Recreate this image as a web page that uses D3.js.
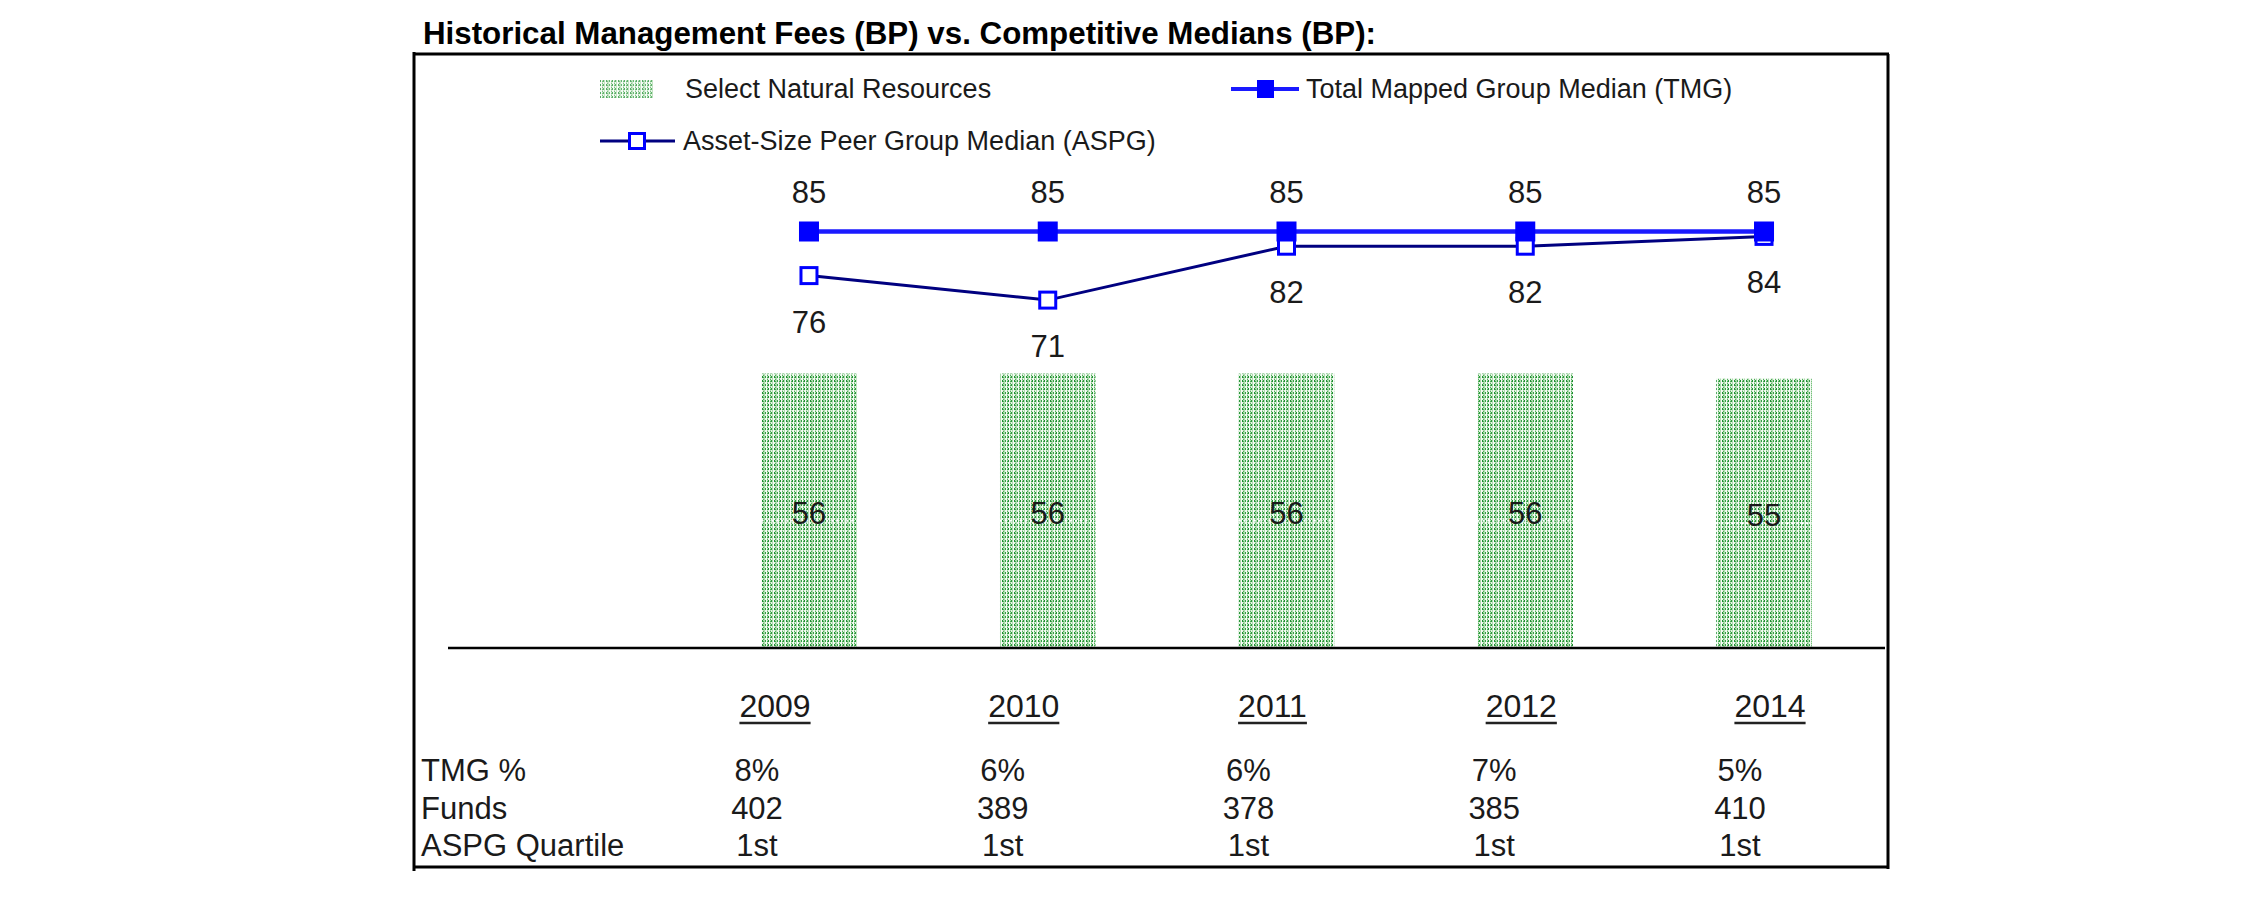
<!DOCTYPE html>
<html>
<head>
<meta charset="utf-8">
<script src="https://cdn.jsdelivr.net/npm/d3@7"></script>
<style>
  html, body { margin: 0; padding: 0; background: #fff; }
  svg { display: block; }
  text { font-family: "Liberation Sans", Arial, sans-serif; }
</style>
</head>
<body>
<script>
// ---------- data ----------
const categories   = ["2009", "2010", "2011", "2012", "2014"];
const snrValues    = [56, 56, 56, 56, 55];     // Select Natural Resources (bars)
const tmgValues    = [85, 85, 85, 85, 85];     // Total Mapped Group Median
const aspgValues   = [76, 71, 82, 82, 84];     // Asset-Size Peer Group Median
const tmgPct       = ["8%", "6%", "6%", "7%", "5%"];
const funds        = ["402", "389", "378", "385", "410"];
const aspgQuartile = ["1st", "1st", "1st", "1st", "1st"];
const rowLabels    = ["TMG %", "Funds", "ASPG Quartile"];
const legendLabels = ["Select Natural Resources", "Total Mapped Group Median (TMG)", "Asset-Size Peer Group Median (ASPG)"];
const titleText    = "Historical Management Fees (BP) vs. Competitive Medians (BP):";

// ---------- setup ----------
const W = 2251, H = 898;
const svg = d3.select("body").append("svg").attr("width", W).attr("height", H);
svg.append("rect").attr("width", W).attr("height", H).attr("fill", "#fff");

const defs = svg.append("defs");
const pat = defs.append("pattern").attr("id", "greenDots")
  .attr("patternUnits", "userSpaceOnUse").attr("width", 12).attr("height", 4);
pat.append("rect").attr("width", 12).attr("height", 4).attr("fill", "#addaad");
// dark dotted columns
[[0, "#1e8c32"], [3, "#2a9a3a"], [6, "#1e8c32"], [9, "#33a043"]].forEach(([x, c]) => {
  pat.append("rect").attr("x", x).attr("y", 0).attr("width", 1).attr("height", 2).attr("fill", c);
  pat.append("rect").attr("x", x).attr("y", 2).attr("width", 1).attr("height", 2).attr("fill", "#e8f5e8");
});
// white columns
[1, 5, 10].forEach(x => {
  pat.append("rect").attr("x", x).attr("y", 0).attr("width", 1).attr("height", 4).attr("fill", "#f4fbf4");
});
// mid-green dotted columns
[2, 7, 11].forEach(x => {
  pat.append("rect").attr("x", x).attr("y", 1).attr("width", 1).attr("height", 1).attr("fill", "#4fae5a");
  pat.append("rect").attr("x", x).attr("y", 3).attr("width", 1).attr("height", 1).attr("fill", "#4fae5a");
});

// ---------- scales ----------
const x = d3.scaleBand().domain(categories).range([689.6, 1883.4]).paddingInner(0.6).paddingOuter(0.3);
const y = d3.scaleLinear().domain([0, 100]).range([648, 158]);
const xc = d => x(d) + x.bandwidth() / 2;
const yearX = d3.scalePoint().domain(categories).range([775, 1770]);
const valX  = d3.scalePoint().domain(categories).range([757, 1740]);

// ---------- title ----------
svg.append("text").attr("x", 423).attr("y", 44)
  .attr("font-size", 31.3).attr("font-weight", "bold").attr("fill", "#000")
  .text(titleText);

// ---------- frame ----------
const frame = svg.append("g").attr("stroke", "#000").attr("stroke-width", 3);
frame.append("line").attr("x1", 413).attr("x2", 1889).attr("y1", 54).attr("y2", 54);
frame.append("line").attr("x1", 414).attr("x2", 414).attr("y1", 52).attr("y2", 871);
frame.append("line").attr("x1", 1888).attr("x2", 1888).attr("y1", 54).attr("y2", 869);
frame.append("line").attr("x1", 414).attr("x2", 1888).attr("y1", 867).attr("y2", 867);

// ---------- legend ----------
const lg = svg.append("g").attr("font-size", 27).attr("fill", "#1a1a1a");
lg.append("rect").attr("x", 600).attr("y", 80).attr("width", 53).attr("height", 18)
  .attr("fill", "url(#greenDots)").attr("opacity", 0.75);
lg.append("text").attr("x", 685).attr("y", 98).text(legendLabels[0]);

lg.append("line").attr("x1", 1231).attr("x2", 1299).attr("y1", 89).attr("y2", 89)
  .attr("stroke", "#1a1aff").attr("stroke-width", 4);
lg.append("rect").attr("x", 1257).attr("y", 80).attr("width", 17).attr("height", 18).attr("fill", "#0000ff");
lg.append("text").attr("x", 1306).attr("y", 98).text(legendLabels[1]);

lg.append("line").attr("x1", 600).attr("x2", 675).attr("y1", 141).attr("y2", 141)
  .attr("stroke", "#000080").attr("stroke-width", 3);
lg.append("rect").attr("x", 629.5).attr("y", 133.5).attr("width", 15).attr("height", 15)
  .attr("fill", "#fff").attr("stroke", "#0000ff").attr("stroke-width", 3);
lg.append("text").attr("x", 683).attr("y", 150).text(legendLabels[2]);

// ---------- bars ----------
const bars = categories.map((c, i) => ({ c, v: snrValues[i] }));
svg.append("g").selectAll("rect").data(bars).join("rect")
  .attr("x", d => x(d.c)).attr("width", x.bandwidth())
  .attr("y", d => y(d.v)).attr("height", d => y(0) - y(d.v))
  .attr("fill", "url(#greenDots)");

// dotted band behind bar labels
svg.append("g").selectAll("line").data(bars).join("line")
  .attr("x1", d => x(d.c)).attr("x2", d => x(d.c) + x.bandwidth())
  .attr("y1", d => (y(d.v) + y(0)) / 2 + 10).attr("y2", d => (y(d.v) + y(0)) / 2 + 10)
  .attr("stroke", "#ffffff").attr("stroke-width", 2).attr("stroke-dasharray", "2,3");

svg.append("g").selectAll("text").data(bars).join("text")
  .attr("x", d => xc(d.c)).attr("y", d => (y(d.v) + y(0)) / 2 + 13)
  .attr("text-anchor", "middle").attr("font-size", 31).attr("fill", "#1a1a1a")
  .text(d => d.v);

// ---------- axis baseline ----------
svg.append("line").attr("x1", 448).attr("x2", 1885).attr("y1", y(0)).attr("y2", y(0))
  .attr("stroke", "#000").attr("stroke-width", 2.5);

// ---------- lines ----------
const tmg  = categories.map((c, i) => ({ c, v: tmgValues[i] }));
const aspg = categories.map((c, i) => ({ c, v: aspgValues[i] }));
const lineGen = d3.line().x(d => xc(d.c)).y(d => y(d.v));

svg.append("path").datum(aspg).attr("d", lineGen)
  .attr("fill", "none").attr("stroke", "#000080").attr("stroke-width", 3);
svg.append("g").selectAll("rect").data(aspg).join("rect")
  .attr("x", d => xc(d.c) - 8).attr("y", d => y(d.v) - 8)
  .attr("width", 16).attr("height", 16)
  .attr("fill", "#fff").attr("stroke", "#0000ff").attr("stroke-width", 3);

svg.append("path").datum(tmg).attr("d", lineGen)
  .attr("fill", "none").attr("stroke", "#1a1aff").attr("stroke-width", 4.5);
svg.append("g").selectAll("rect").data(tmg).join("rect")
  .attr("x", d => xc(d.c) - 10).attr("y", d => y(d.v) - 10)
  .attr("width", 20).attr("height", 20).attr("fill", "#0000ff");

// labels
svg.append("g").selectAll("text").data(tmg).join("text")
  .attr("x", d => xc(d.c)).attr("y", d => y(d.v) - 29)
  .attr("text-anchor", "middle").attr("font-size", 31).attr("fill", "#1a1a1a")
  .text(d => d.v);
svg.append("g").selectAll("text").data(aspg).join("text")
  .attr("x", d => xc(d.c)).attr("y", d => y(d.v) + 57)
  .attr("text-anchor", "middle").attr("font-size", 31).attr("fill", "#1a1a1a")
  .text(d => d.v);

// ---------- table ----------
const yearG = svg.append("g");
categories.forEach(c => {
  const t = yearG.append("text").attr("x", yearX(c)).attr("y", 717)
    .attr("text-anchor", "middle").attr("font-size", 32).attr("fill", "#1a1a1a").text(c);
  const w = t.node().getComputedTextLength();
  yearG.append("line").attr("x1", yearX(c) - w / 2).attr("x2", yearX(c) + w / 2)
    .attr("y1", 723).attr("y2", 723).attr("stroke", "#222").attr("stroke-width", 2.5);
});

const rowsY = [781, 819, 856];
const rows = [tmgPct, funds, aspgQuartile];
const tg = svg.append("g").attr("font-size", 31).attr("fill", "#1a1a1a");
rowLabels.forEach((lab, r) => {
  tg.append("text").attr("x", 421).attr("y", rowsY[r]).text(lab);
  tg.selectAll(null).data(rows[r]).join("text")
    .attr("x", (d, i) => valX(categories[i])).attr("y", rowsY[r])
    .attr("text-anchor", "middle").text(d => d);
});
</script>
</body>
</html>
